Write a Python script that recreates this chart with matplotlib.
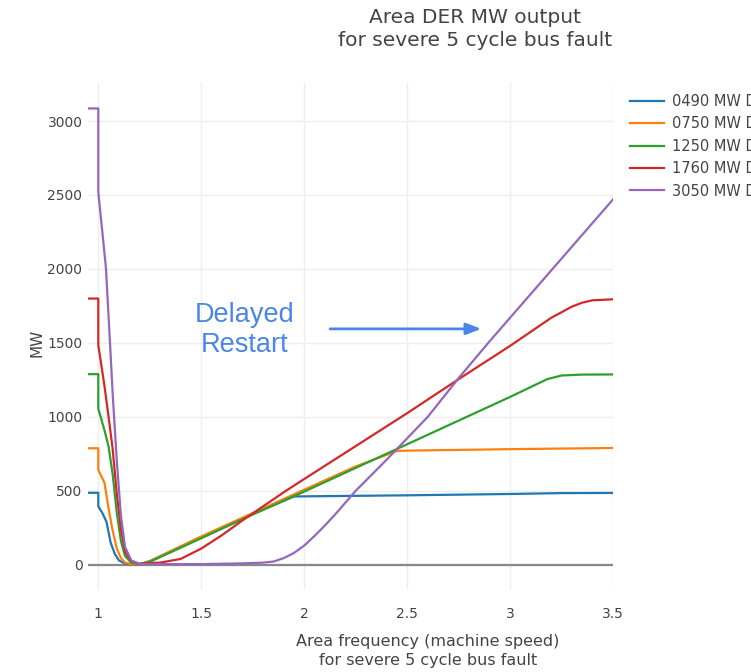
import matplotlib
matplotlib.use("Agg")
import matplotlib.pyplot as plt

W, H = 751, 672

labels = ["0490 MW DER", "0750 MW DER", "1250 MW DER", "1760 MW DER", "3050 MW DER"]
colors = ["#1f77b4", "#ff7f0e", "#2ca02c", "#d62728", "#9467bd"]

x_0490 = [0.95, 1.0, 1.0, 1.02, 1.04, 1.06, 1.08, 1.10, 1.13, 1.16, 1.20, 1.25, 1.5, 1.75, 1.95, 2.0, 2.5, 3.0, 3.25, 3.5]
y_0490 = [487, 487, 395, 350, 290, 150, 75, 30, 8, 4, 3, 25, 188, 345, 462, 463, 470, 479, 485, 486]

x_0750 = [0.95, 1.0, 1.0, 1.03, 1.05, 1.07, 1.09, 1.11, 1.13, 1.16, 1.20, 1.25, 1.5, 1.75, 2.0, 2.25, 2.45, 2.5, 3.0, 3.5]
y_0750 = [788, 788, 642, 555, 380, 230, 110, 45, 15, 5, 3, 25, 192, 350, 508, 665, 770, 772, 782, 790]

x_1250 = [0.95, 1.0, 1.0, 1.03, 1.05, 1.07, 1.09, 1.11, 1.13, 1.16, 1.20, 1.25, 1.5, 1.75, 2.0, 2.5, 3.0, 3.18, 3.25, 3.35, 3.5]
y_1250 = [1289, 1289, 1055, 910, 800, 610, 350, 160, 60, 15, 4, 20, 180, 340, 495, 815, 1135, 1255, 1280, 1286, 1287]

x_1760 = [0.95, 1.0, 1.0, 1.03, 1.05, 1.07, 1.09, 1.11, 1.13, 1.16, 1.20, 1.3, 1.4, 1.5, 1.6, 1.7, 1.8, 1.9, 2.0, 2.5, 2.75, 3.0, 3.2, 3.3, 3.35, 3.4, 3.5]
y_1760 = [1800, 1800, 1485, 1210, 1000, 780, 480, 240, 90, 25, 8, 15, 40, 110, 200, 300, 395, 490, 580, 1025, 1255, 1480, 1670, 1745, 1772, 1788, 1795]

x_3050 = [0.95, 1.0, 1.0, 1.037, 1.055, 1.07, 1.09, 1.11, 1.13, 1.16, 1.20, 1.5, 1.7, 1.8, 1.85, 1.9, 1.95, 2.0, 2.05, 2.1, 2.15, 2.2, 2.25, 2.3, 2.4, 2.5, 2.6, 2.75, 2.9, 3.0, 3.1, 3.2, 3.3, 3.4, 3.5]
y_3050 = [3085, 3085, 2520, 2010, 1550, 1150, 700, 330, 120, 30, 5, 5, 10, 15, 22, 45, 80, 130, 195, 265, 340, 420, 500, 570, 710, 855, 1000, 1262, 1510, 1670, 1830, 1990, 2150, 2310, 2470]

series_x = [x_0490, x_0750, x_1250, x_1760, x_3050]
series_y = [y_0490, y_0750, y_1250, y_1760, y_3050]

xticks = [1, 1.5, 2, 2.5, 3, 3.5]
xticklabels = ["1", "1.5", "2", "2.5", "3", "3.5"]
yticks = [0, 500, 1000, 1500, 2000, 2500, 3000]
yticklabels = ["0", "500", "1000", "1500", "2000", "2500", "3000"]

title = "Area DER MW output\nfor severe 5 cycle bus fault"
xlabel = "Area frequency (machine speed)\nfor severe 5 cycle bus fault"
ylabel = "MW"
note = "Delayed\nRestart"

fig = plt.figure(figsize=(W / 100, H / 100), dpi=100)
L, R, T, B = 88, 613, 83, 590
ax = fig.add_axes([L / W, 1 - B / H, (R - L) / W, (B - T) / H])

for xs, ys, c, lab in zip(series_x, series_y, colors, labels):
    ax.plot(xs, ys, color=c, lw=1.6, label=lab, solid_joinstyle="round", zorder=3)

ax.set_xlim(0.95, 3.5)
ax.set_ylim(-170, 3257)
ax.axhline(0, color="#888888", lw=1.6, zorder=2)

ax.set_xticks(xticks)
ax.set_xticklabels(xticklabels)
ax.set_yticks(yticks)
ax.set_yticklabels(yticklabels)
ax.grid(True, color="#eeeeee", lw=1, zorder=0)
for s in ax.spines.values():
    s.set_visible(False)
ax.tick_params(length=0, labelsize=10, colors="#444444", pad=4)
ax.tick_params(axis="x", pad=12)
for t in ax.get_xticklabels() + ax.get_yticklabels():
    t.set_fontfamily("DejaVu Sans")

def fx(px):
    return px / W

def fy(py):
    return 1 - py / H

fig.text(fx(475), fy(29), title, ha="center", va="center", fontsize=14.5,
         color="#444444", family="DejaVu Sans", linespacing=1.3)
fig.text(fx(428), fy(651), xlabel, ha="center", va="center", fontsize=11.5,
         color="#444444", family="DejaVu Sans", linespacing=1.3)
fig.text(fx(37), fy(343), ylabel, ha="center", va="center", fontsize=11,
         color="#444444", family="DejaVu Sans", rotation=90)

ax.text(1.709, 1588, note, ha="center", va="center", fontsize=19.5,
        color="#4a86e8", family="Liberation Sans", linespacing=1.2)
ax.annotate("", xy=(2.86, 1595), xytext=(2.126, 1595),
            arrowprops=dict(arrowstyle="-|>,head_length=0.9,head_width=0.35",
                            color="#4a86e8", lw=2, shrinkA=0, shrinkB=0))

leg = fig.legend(loc="upper left", bbox_to_anchor=(fx(624), fy(88)),
                 frameon=False, fontsize=10.5, handlelength=2.35, handletextpad=0.55,
                 labelspacing=0.51, borderaxespad=0)
for t in leg.get_texts():
    t.set_color("#444444")

fig.savefig("out.png", dpi=100)
